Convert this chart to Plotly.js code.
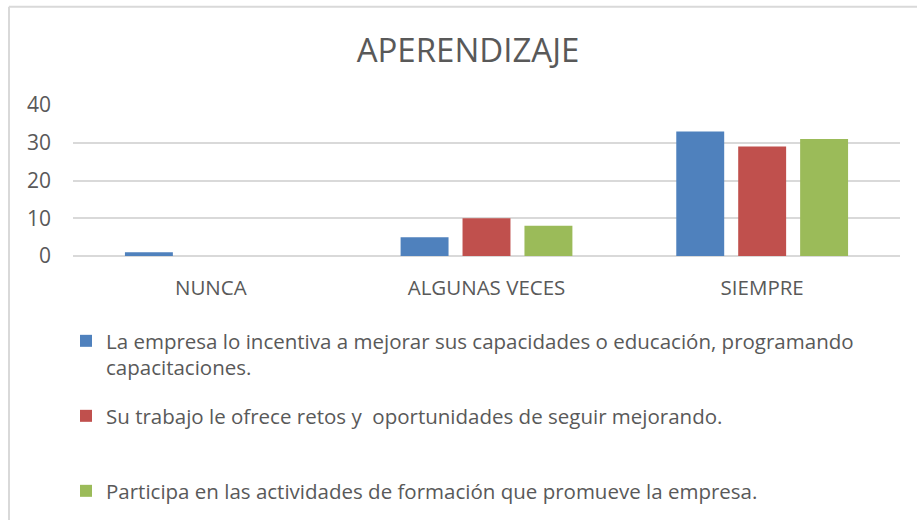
<!DOCTYPE html>
<html>
<head>
<meta charset="utf-8">
<script src="https://cdn.plot.ly/plotly-3.0.1.min.js"></script>
<style>
  html, body { margin: 0; padding: 0; background: #ffffff; }
  #chart { width: 917px; height: 520px; }
</style>
</head>
<body>
<div id="chart"></div>
<script>
// ---- data ----
const categories = ["NUNCA", "ALGUNAS VECES", "SIEMPRE"];
const seriesNames = [
  "La empresa lo incentiva a mejorar sus capacidades o educación, programando<br>capacitaciones.",
  "Su trabajo le ofrece retos y  oportunidades de seguir mejorando.",
  "Participa en las actividades de formación que promueve la empresa."
];
const incentiva = [1, 5, 33];
const retos = [0, 10, 29];
const participa = [0, 8, 31];
const yTicks = [0, 10, 20, 30, 40];

// ---- layout helpers (pixel -> paper) ----
const W = 917, H = 520;
const L = 73, R = 17, T = 105, B = 263;
const pw = W - L - R, ph = H - T - B;
const px = x => (x - L) / pw;
const py = y => (H - B - y) / ph;

const textColor = "#595959";
const fontFam = "'Open Sans', 'Liberation Sans', sans-serif";
const colors = ["#4F81BD", "#C0504D", "#9BBB59"];

const traces = [incentiva, retos, participa].map((vals, i) => ({
  type: "bar",
  x: categories,
  y: vals,
  name: seriesNames[i],
  marker: { color: colors[i] },
  legend: i === 0 ? "legend" : "legend" + (i + 1),
  hoverinfo: "x+y"
}));

const legendBase = {
  orientation: "v",
  xanchor: "left",
  font: { family: fontFam, size: 20.5, color: textColor },
  bgcolor: "rgba(0,0,0,0)",
  valign: "top",
  itemclick: false,
  itemdoubleclick: false
};

const layout = {
  width: W, height: H,
  margin: { l: L, r: R, t: T, b: B, pad: 0 },
  paper_bgcolor: "#ffffff",
  plot_bgcolor: "#ffffff",
  title: {
    text: "APERENDIZAJE",
    font: { family: fontFam, size: 33, color: textColor },
    x: px(468), xref: "paper", xanchor: "center",
    y: 1 - 50 / H, yref: "container", yanchor: "middle"
  },
  barmode: "group",
  bargap: 0.326,
  bargroupgap: 0.226,
  showlegend: true,
  legend: Object.assign({}, legendBase, { x: px(66), y: py(321), yanchor: "top" }),
  legend2: Object.assign({}, legendBase, { x: px(66), y: py(416), yanchor: "middle" }),
  legend3: Object.assign({}, legendBase, { x: px(66), y: py(491), yanchor: "middle" }),
  xaxis: {
    type: "category",
    showgrid: false,
    showline: false,
    zeroline: false,
    ticks: "",
    ticklabelstandoff: 17,
    tickfont: { family: fontFam, size: 20.5, color: textColor },
    fixedrange: true
  },
  yaxis: {
    range: [0, 40],
    tickvals: yTicks,
    ticktext: yTicks.map(String),
    showgrid: true,
    gridcolor: "#d9d9d9",
    gridwidth: 1.5,
    zeroline: true,
    zerolinecolor: "#d9d9d9",
    zerolinewidth: 1.5,
    showline: false,
    ticks: "",
    ticklabelstandoff: 21,
    tickfont: { family: fontFam, size: 21, color: textColor },
    fixedrange: true
  },
  shapes: [
    { type: "line", xref: "paper", yref: "paper", x0: px(9), x1: px(9), y0: py(6), y1: py(530),
      line: { color: "#d9d9d9", width: 2 }, layer: "above" },
    { type: "line", xref: "paper", yref: "paper", x0: px(9), x1: px(930), y0: py(6), y1: py(6),
      line: { color: "#d9d9d9", width: 2 }, layer: "above" }
  ]
};

Plotly.newPlot("chart", traces, layout, { displayModeBar: false, responsive: false });
</script>
</body>
</html>
